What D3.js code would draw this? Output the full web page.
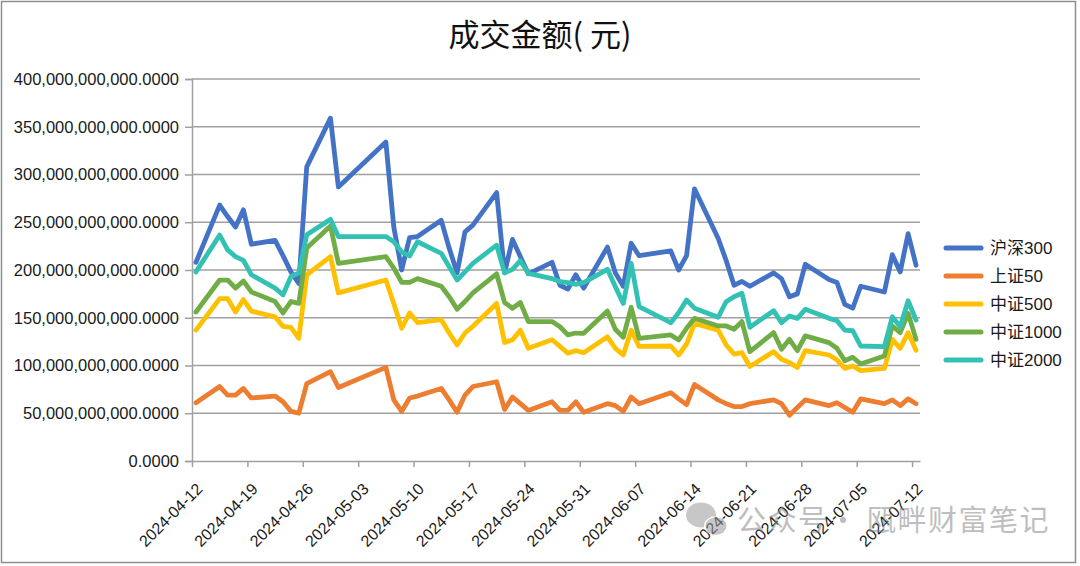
<!DOCTYPE html>
<html>
<head>
<meta charset="utf-8">
<script src="https://cdn.jsdelivr.net/npm/d3@7"></script>
<style>
  html, body { margin: 0; padding: 0; background: #fff; }
  svg { display: block; }
</style>
</head>
<body>
<div id="chart"></div>
<script>
// ---- data (values in units of 1e9 元) ----
const dates = [
  "2024-04-12","2024-04-15","2024-04-16","2024-04-17","2024-04-18","2024-04-19","2024-04-22","2024-04-23","2024-04-24","2024-04-25","2024-04-26","2024-04-29","2024-04-30",
  "2024-05-06","2024-05-07","2024-05-08","2024-05-09","2024-05-10","2024-05-13","2024-05-14","2024-05-15","2024-05-16","2024-05-17","2024-05-20","2024-05-21","2024-05-22","2024-05-23","2024-05-24","2024-05-27","2024-05-28","2024-05-29","2024-05-30","2024-05-31",
  "2024-06-03","2024-06-04","2024-06-05","2024-06-06","2024-06-07","2024-06-11","2024-06-12","2024-06-13","2024-06-14","2024-06-17","2024-06-18","2024-06-19","2024-06-20","2024-06-21","2024-06-24","2024-06-25","2024-06-26","2024-06-27","2024-06-28",
  "2024-07-01","2024-07-02","2024-07-03","2024-07-04","2024-07-05","2024-07-08","2024-07-09","2024-07-10","2024-07-11","2024-07-12"
];
const hs300 = [
  208, 268, 256, 245, 263, 227, 231, 215, 198, 186, 308, 359, 287,
  334, 245, 200, 234, 235, 252, 223, 197, 240, 247, 281, 197, 232, 214, 196, 208, 184, 180, 195, 181,
  224, 197, 183, 228, 215, 220, 200, 215, 285, 233, 210, 184, 188, 183, 197, 191, 172, 175, 206,
  190, 187, 164, 160, 183, 177, 216, 198, 238, 205
];
const sz50 = [
  61, 78, 69, 69, 76, 66, 68, 62, 52, 50, 81, 93.5, 77,
  98, 64, 52, 66, 68, 76, 64, 51, 69, 78, 83, 54, 67, 60, 53, 62, 53, 53, 62, 51,
  60, 58, 52, 67, 60, 71.5, 65, 59, 80, 64, 60, 57, 57, 60, 64, 60, 48, 56, 64,
  58, 61, 56, 51, 65, 60, 64, 58, 65, 60
];
const zz500 = [
  137, 170, 170, 156, 169, 157, 151, 141, 140, 128.5, 195, 214, 176,
  189.5, 165, 139, 155, 145, 148, 134, 121.5, 134, 141, 165, 124, 127, 137, 118, 127, 120, 113, 115.5, 113.4,
  130, 118, 111, 137, 120, 120.4, 111, 122.5, 144, 137, 121.5, 112, 113.4, 99, 114.5, 106.5, 103, 98, 115.5,
  111, 106, 97, 99.5, 94.6, 97, 127.4, 118, 134.4, 116
];
const zz1000 = [
  156, 189.5, 189.5, 181, 188.5, 177, 167, 155, 167, 165, 223, 246, 207,
  214, 202, 187, 187, 191, 183, 172, 159, 167, 176, 196, 166, 160, 166, 146, 146, 140.6, 132, 134, 133.7,
  157, 138, 129.5, 161, 128.5, 132, 126.7, 139, 149.4, 141.4, 141.4, 138, 146, 114.5, 134.4, 117, 127.4, 115.5, 131,
  124, 118, 105, 108.6, 101.6, 110, 141.4, 134.4, 154.6, 127.4
];
const zz2000 = [
  198, 236.6, 221, 214, 210, 195, 181, 174, 193, 197, 237, 253, 235,
  235, 229.6, 219, 214.7, 229.6, 217.5, 203.5, 189.5, 198, 207, 226, 197, 200.7, 209.7, 196.5, 191, 187.7, 186.7, 185, 186.7,
  200.7, 182.5, 165, 207, 161.6, 144.8, 155.3, 168.6, 160, 150.5, 166.8, 172, 175.6, 140, 157.4, 144.8, 151.8, 149.4, 158.8,
  149.4, 147, 137, 136.4, 120.4, 119.7, 151, 140.6, 167.8, 147.6
];
const seriesNames = ["沪深300", "上证50", "中证500", "中证1000", "中证2000"];
const seriesValues = [hs300, sz50, zz500, zz1000, zz2000];
const seriesColors = ["#4472C4", "#ED7D31", "#FFC000", "#70AD47", "#33C1B3"];
const yTicks = [0, 50, 100, 150, 200, 250, 300, 350, 400];
const UNIT = 1e9;
const chartTitle = "成交金额( 元)";
const watermarkText = "公众号· 瓯畔财富笔记";

(function () {
  // ---- layout ----
  const W = 1080, H = 566;
  const mLeft = 192, mRight = 920, mTop = 79, mBottom = 461;

  const parse = d3.utcParse("%Y-%m-%d");
  const start = parse("2024-04-12");
  const end = parse("2024-07-13");
  const x = d3.scaleUtc().domain([start, end]).range([mLeft, mRight]);
  const y = d3.scaleLinear().domain([0, 400 * UNIT]).range([mBottom, mTop]);
  const xTickValues = d3.range(14).map(i => d3.utcDay.offset(start, 7 * i));
  const px = s => x(d3.utcHour.offset(parse(s), 12));

  const svg = d3.select("#chart").append("svg")
    .attr("width", W).attr("height", H);

  svg.append("rect").attr("x", 0).attr("y", 0).attr("width", W).attr("height", H).attr("fill", "#fff");
  svg.append("rect").attr("x", 1.5).attr("y", 1.5).attr("width", 1074).attr("height", 561)
    .attr("fill", "none").attr("stroke", "#8f8f8f").attr("stroke-width", 1.5);

  // title
  svg.append("text").attr("x", 540).attr("y", 46).attr("text-anchor", "middle")
    .attr("font-family", "'Noto Sans CJK SC', sans-serif").attr("font-size", 31)
    .attr("fill", "#111").text(chartTitle);

  // gridlines
  svg.append("g").selectAll("line").data(yTicks.filter(v => v > 0)).join("line")
    .attr("x1", mLeft).attr("x2", mRight)
    .attr("y1", d => y(d * UNIT)).attr("y2", d => y(d * UNIT))
    .attr("stroke", "#a0a0a0").attr("stroke-width", 1.5);

  // y axis
  const yAxis = svg.append("g").attr("transform", `translate(${mLeft},0)`)
    .call(d3.axisLeft(y).tickValues(yTicks.map(v => v * UNIT))
      .tickFormat(d3.format(",.4f")).tickSize(7).tickPadding(6));
  yAxis.select(".domain").attr("stroke", "#a0a0a0").attr("stroke-width", 1.5);
  yAxis.selectAll(".tick line").attr("stroke", "#a0a0a0").attr("stroke-width", 1.5);
  yAxis.selectAll("text").attr("font-family", "'Liberation Sans', Arial, sans-serif")
    .attr("font-size", 16.5).attr("fill", "#1a1a1a");

  // x axis
  const xAxis = svg.append("g").attr("transform", `translate(0,${mBottom})`)
    .call(d3.axisBottom(x).tickValues(xTickValues)
      .tickFormat(d3.utcFormat("%Y-%m-%d")).tickSize(6).tickSizeOuter(0));
  xAxis.select(".domain").attr("stroke", "#a0a0a0").attr("stroke-width", 1.5);
  xAxis.selectAll(".tick line").attr("stroke", "#a0a0a0").attr("stroke-width", 1.5);
  xAxis.selectAll("text")
    .attr("font-family", "'Liberation Sans', Arial, sans-serif")
    .attr("font-size", 16).attr("fill", "#1a1a1a")
    .attr("text-anchor", "end").attr("y", 0).attr("dy", 0)
    .attr("transform", "translate(11,29) rotate(-45)");

  // lines
  const line = d3.line().x(d => px(d.date)).y(d => y(d.value * UNIT));
  const g = svg.append("g");
  seriesValues.forEach((vals, i) => {
    const data = dates.map((d, j) => ({ date: d, value: vals[j] }));
    g.append("path").datum(data).attr("d", line)
      .attr("fill", "none").attr("stroke", seriesColors[i])
      .attr("stroke-width", 4.8).attr("stroke-linejoin", "round").attr("stroke-linecap", "round");
  });

  // legend
  const lg = svg.append("g");
  seriesNames.forEach((name, i) => {
    const ly = 248 + i * 28;
    lg.append("line").attr("x1", 946).attr("x2", 981).attr("y1", ly).attr("y2", ly)
      .attr("stroke", seriesColors[i]).attr("stroke-width", 5).attr("stroke-linecap", "round");
    lg.append("text").attr("x", 990).attr("y", ly).attr("dy", "0.36em")
      .attr("font-family", "'Liberation Sans', 'Noto Sans CJK SC', sans-serif")
      .attr("font-size", 17).attr("fill", "#1a1a1a").text(name);
  });

  // watermark
  const wm = svg.append("g").attr("opacity", 0.55);
  wm.append("ellipse").attr("cx", 701).attr("cy", 515).attr("rx", 15).attr("ry", 12.5).attr("fill", "#9a9a9a");
  wm.append("ellipse").attr("cx", 716).attr("cy", 526).attr("rx", 12).attr("ry", 10).attr("fill", "#fff");
  wm.append("ellipse").attr("cx", 716).attr("cy", 526).attr("rx", 10.5).attr("ry", 8.8).attr("fill", "#9a9a9a");
  wm.append("text").attr("x", 737).attr("y", 531)
    .attr("font-family", "'Noto Sans CJK SC', sans-serif").attr("font-size", 29)
    .attr("letter-spacing", 1.5).attr("fill", "#8a8a8a").text(watermarkText);
})();
</script>
</body>
</html>
